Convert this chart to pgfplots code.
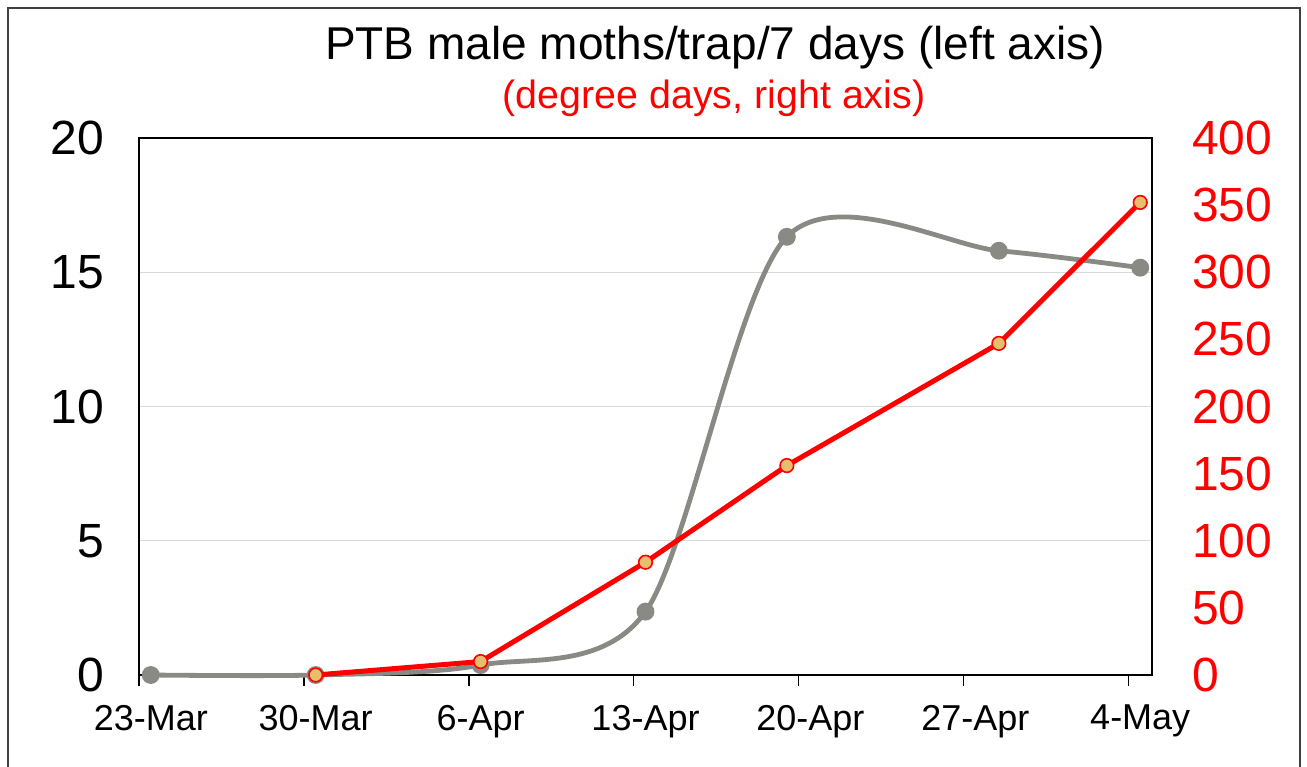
\documentclass[border=0pt]{standalone}
\usepackage{fontspec}
\setmainfont{Liberation Sans}
\usepackage{pgfplots}
\pgfplotsset{compat=1.18}
\definecolor{ptbgray}{RGB}{137,138,132}
\definecolor{mkfill}{RGB}{230,190,110}
\definecolor{gridgray}{RGB}{217,217,217}

\begin{document}
\begin{tikzpicture}
\useasboundingbox (-69.5pt,-45.5pt) rectangle (584pt,337.5pt);
\draw[line width=0.75pt, black!75] (-65.5pt,-60pt) rectangle (580.5pt,333.5pt);

% moths per trap, left axis
\begin{axis}[
  at={(0pt,0pt)}, anchor=south west,
  scale only axis, width=506.5pt, height=268.5pt,
  xmin=0, xmax=43, ymin=0, ymax=20,
  clip=false,
  axis line style={line width=0.75pt, black, -},
  xtick={0,7,...,42},
  xticklabels={23-Mar,30-Mar,6-Apr,13-Apr,20-Apr,27-Apr,4-May},
  xtick pos=bottom, ytick pos=left,
  tick align=outside,
  major tick length=5.5pt,
  xtick style={black, line width=0.75pt},
  ytick style={draw=none},
  x tick label style={xshift=5.9pt, yshift=-6pt, font=\fontsize{18}{20}\selectfont},
  ytick={0,5,...,20},
  y tick label style={font=\fontsize{24}{26}\selectfont, xshift=-8.5pt},
  ymajorgrids, grid style={gridgray, line width=0.5pt},
  /pgf/number format/assume math mode=true,
]
\addplot[ptbgray, line width=2.4pt, smooth, mark=*, mark size=3.25pt,
  mark options={fill=ptbgray, draw=ptbgray}]
  coordinates {(0.5,0) (7.5,0) (14.5,0.37) (21.5,2.36) (27.5,16.32) (36.5,15.8) (42.5,15.17)};
\end{axis}

% degree days, right axis
\begin{axis}[
  at={(0pt,0pt)}, anchor=south west,
  scale only axis, width=506.5pt, height=268.5pt,
  xmin=0, xmax=43, ymin=0, ymax=400,
  clip=false,
  hide x axis,
  axis y line*=right,
  axis line style={line width=0.75pt, black, -},
  ytick={0,50,...,400},
  ytick style={draw=none},
  y tick label style={red, anchor=west, xshift=16.5pt, font=\fontsize{24}{26}\selectfont},
  /pgf/number format/assume math mode=true,
]
\addplot[red, line width=2.5pt, mark=*, mark size=3.4pt,
  mark options={fill=mkfill, draw=red, line width=0.8pt}]
  coordinates {(7.5,0) (14.5,10) (21.5,84) (27.5,156) (36.5,247) (42.5,352)};
\end{axis}

\node[font=\fontsize{23}{27}\selectfont, anchor=base] at (288pt,307.5pt)
  {PTB male moths/trap/7 days (left axis)};
\node[font=\fontsize{19.7}{22}\selectfont, text=red] at (287.5pt,288.5pt)
  {(degree days, right axis)};
\end{tikzpicture}
\end{document}
